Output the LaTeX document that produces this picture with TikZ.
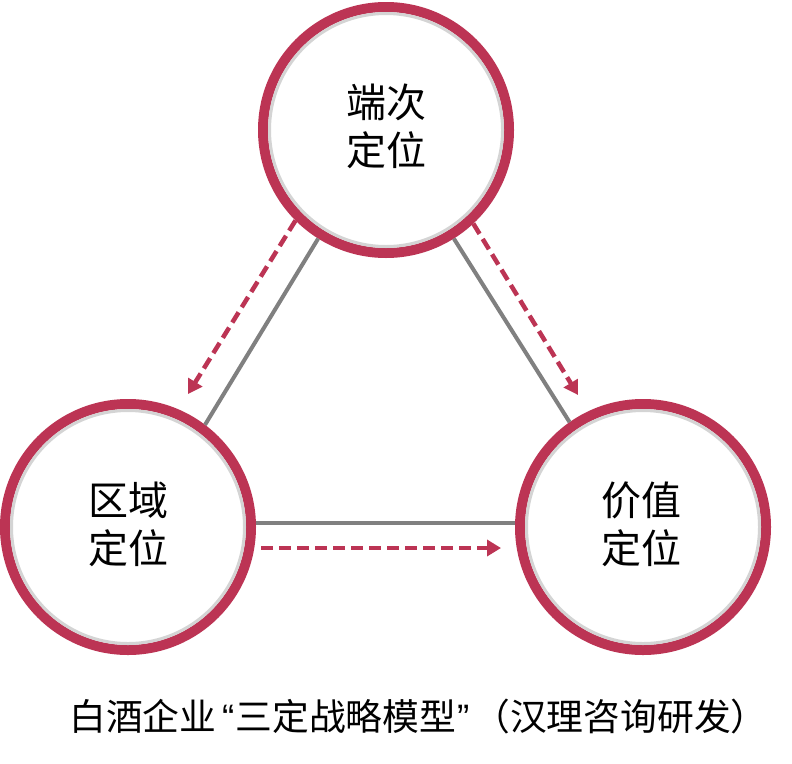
\documentclass[tikz,border=0pt]{standalone}
\usepackage{fontspec}
\newfontfamily\cjk{Noto Sans CJK SC}
\newfontfamily\latq{Liberation Sans}
\usetikzlibrary{arrows.meta,calc}
\definecolor{ringred}{RGB}{188,52,84}
\definecolor{linegray}{RGB}{128,128,128}
\definecolor{shadowgray}{RGB}{212,212,212}
\tikzset{
  ring/.style={circle, draw=ringred, line width=10pt, fill=white, minimum size=246pt,
    inner sep=0pt},
  ringtext/.style={align=center, inner sep=0pt, font=\cjk\fontsize{40}{48}\selectfont},
  innershade/.style={draw=shadowgray, line width=3pt},
  link/.style={draw=linegray, line width=4pt},
  flow/.style={draw=ringred, line width=4.5pt, dash pattern=on 12pt off 6pt,
    -{Triangle[length=14pt,width=16pt]}},
  caption/.style={font=\cjk\fontsize{36.8}{40}\selectfont, inner sep=0pt}
}
\begin{document}
\begin{tikzpicture}[x=1pt,y=-1pt]
  \useasboundingbox (0,0) rectangle (792,763);
  \fill[white] (0,0) rectangle (792,763);
  % circles
  \node[ring] (top)   at (386,130) {};
  \node[ring] (left)  at (128,527) {};
  \node[ring] (right) at (643,527) {};
  \draw[innershade] (top)   circle (116.5);
  \draw[innershade] (left)  circle (116.5);
  \draw[innershade] (right) circle (116.5);
  % texts
  \node[ringtext] (topt)   at ($(top)+(0,-4)$)   {端次\\定位};
  \node[ringtext] (leftt)  at ($(left)+(0,-3)$)  {区域\\定位};
  \node[ringtext] (rightt) at ($(right)+(-2,-3)$) {价值\\定位};
  % solid links
  \draw[link] (top.238) -- (left.53.5);
  \draw[link] (top.302) -- (right.125);
  \draw[link] (left.2) -- (right.178);
  % free ends of the flow arrows
  \coordinate (tipL) at ($(left)+(60,-133)$);
  \coordinate (tipR) at ($(right)+(-65,-132)$);
  \coordinate (startH) at ($(left)+(133,21)$);
  \coordinate (tipH) at ($(right)+(-142,21)$);
  % dashed flows
  \draw[flow] (top.225) -- (tipL);
  \draw[flow] (top.313) -- (tipR);
  \draw[flow] (startH) -- (tipH);
  % caption
  \node[caption, anchor=west] (cap) at (69,717) {白酒企业\makebox[19pt][r]{\latq “\kern1pt}三定战略模型\makebox[17pt][l]{\kern1pt\latq ”}（汉理咨询研发）};
\end{tikzpicture}
\end{document}
